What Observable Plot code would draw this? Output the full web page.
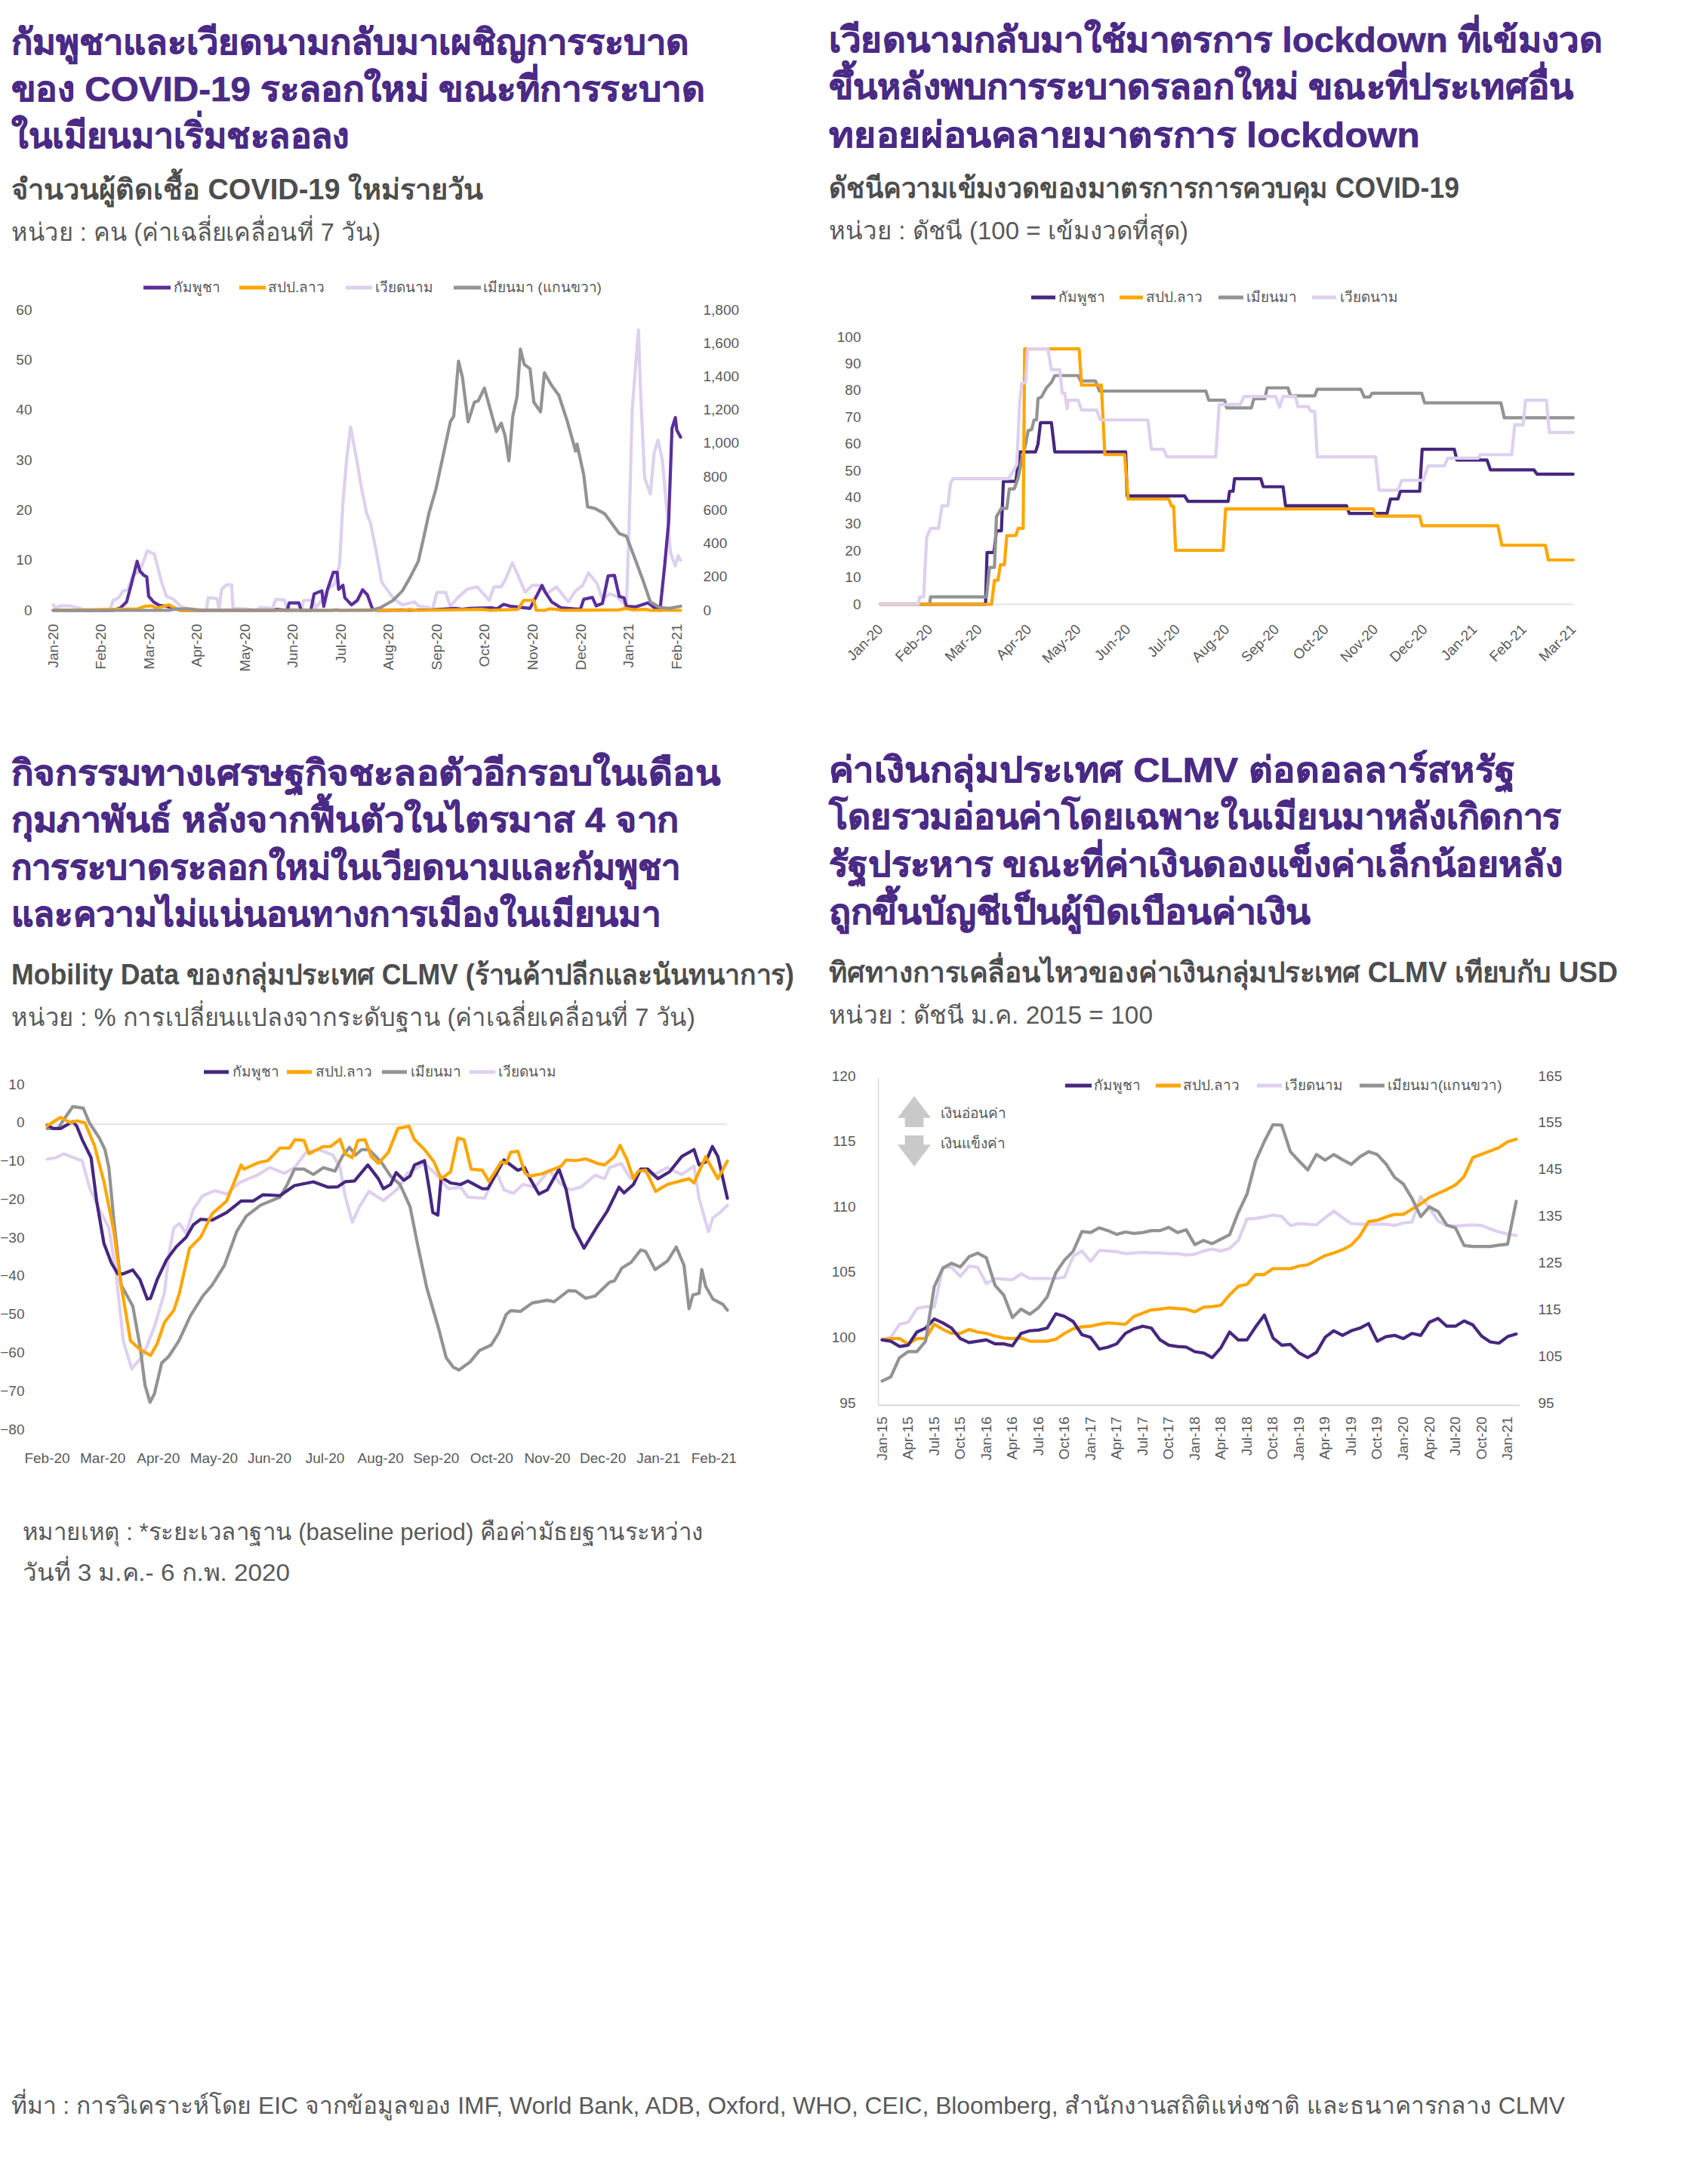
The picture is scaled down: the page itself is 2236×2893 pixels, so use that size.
<!DOCTYPE html>
<html lang="th"><head><meta charset="utf-8">
<script src="https://cdn.jsdelivr.net/npm/d3@7"></script>
<script src="https://cdn.jsdelivr.net/npm/@observablehq/plot@0.6"></script>
<style>
html,body{margin:0;background:#fff;}
#page{position:relative;width:2236px;height:2893px;background:#fff;overflow:hidden;font-family:"Liberation Sans","Noto Sans",sans-serif;}
.t{position:absolute;white-space:nowrap;line-height:1.2;transform-origin:0 50%;}
.h{font-weight:700;font-size:47px;color:#4a2a85;-webkit-text-stroke:.7px #4a2a85;}
.s{font-weight:700;font-size:38px;color:#4d4d4d;}
.u{font-size:33px;color:#595959;}
.n{font-size:32px;color:#595959;}
.lg{font-size:19px;color:#595959;}
.sw{position:absolute;height:5px;transform:translateY(-50%);}
.chart{position:absolute;}
.arrow{position:absolute;background:#c9c9c9;width:44px;height:41px;}
</style></head><body><div id="page"></div>
<script>
const PURPLE1="#5b2e9a", PURPLE="#47277f", ORANGE="#ffa600", LILAC="#dfd0ee", GREY="#939393";

// ---------- text ----------
const head1=["กัมพูชาและเวียดนามกลับมาเผชิญการระบาด","ของ COVID-19 ระลอกใหม่ ขณะที่การระบาด","ในเมียนมาเริ่มชะลอลง"];
const sub1="จำนวนผู้ติดเชื้อ COVID-19 ใหม่รายวัน";
const unit1="หน่วย : คน (ค่าเฉลี่ยเคลื่อนที่ 7 วัน)";
const head2=["เวียดนามกลับมาใช้มาตรการ lockdown ที่เข้มงวด","ขึ้นหลังพบการระบาดรลอกใหม่ ขณะที่ประเทศอื่น","ทยอยผ่อนคลายมาตรการ lockdown"];
const sub2="ดัชนีความเข้มงวดของมาตรการการควบคุม COVID-19";
const unit2="หน่วย : ดัชนี (100 = เข้มงวดที่สุด)";
const head3=["กิจกรรมทางเศรษฐกิจชะลอตัวอีกรอบในเดือน","กุมภาพันธ์ หลังจากฟื้นตัวในไตรมาส 4 จาก","การระบาดระลอกใหม่ในเวียดนามและกัมพูชา","และความไม่แน่นอนทางการเมืองในเมียนมา"];
const sub3="Mobility Data ของกลุ่มประเทศ CLMV (ร้านค้าปลีกและนันทนาการ)";
const unit3="หน่วย : % การเปลี่ยนแปลงจากระดับฐาน (ค่าเฉลี่ยเคลื่อนที่ 7 วัน)";
const head4=["ค่าเงินกลุ่มประเทศ CLMV ต่อดอลลาร์สหรัฐ","โดยรวมอ่อนค่าโดยเฉพาะในเมียนมาหลังเกิดการ","รัฐประหาร ขณะที่ค่าเงินดองแข็งค่าเล็กน้อยหลัง","ถูกขึ้นบัญชีเป็นผู้บิดเบือนค่าเงิน"];
const sub4="ทิศทางการเคลื่อนไหวของค่าเงินกลุ่มประเทศ CLMV เทียบกับ USD";
const unit4="หน่วย : ดัชนี ม.ค. 2015 = 100";
const note=["หมายเหตุ : *ระยะเวลาฐาน (baseline period) คือค่ามัธยฐานระหว่าง","วันที่ 3 ม.ค.- 6 ก.พ. 2020"];
const source="ที่มา : การวิเคราะห์โดย EIC จากข้อมูลของ IMF, World Bank, ADB, Oxford, WHO, CEIC, Bloomberg, สำนักงานสถิติแห่งชาติ และธนาคารกลาง CLMV";

// ---------- tick labels ----------
const months1=["Jan-20","Feb-20","Mar-20","Apr-20","May-20","Jun-20","Jul-20","Aug-20","Sep-20","Oct-20","Nov-20","Dec-20","Jan-21","Feb-21"];
const months2=[...months1,"Mar-21"];
const months3=months1.slice(1);
const months4=["Jan-15","Apr-15","Jul-15","Oct-15","Jan-16","Apr-16","Jul-16","Oct-16","Jan-17","Apr-17","Jul-17","Oct-17","Jan-18","Apr-18","Jul-18","Oct-18","Jan-19","Apr-19","Jul-19","Oct-19","Jan-20","Apr-20","Jul-20","Oct-20","Jan-21"];

// ---------- chart 1: new cases, [months since Jan-20, cases] ----------
const casesCambodia=[[0,0],[1.25,0],[1.4,.5],[1.53,1.7],[1.63,5.3],[1.75,9.8],[1.81,7.8],[1.89,7],[1.95,6.7],[1.99,2.8],[2.09,1.7],[2.21,1],[2.36,.8],[2.51,.5],[2.66,0],[4.6,0],[4.65,.2],[4.88,0],[4.92,1.5],[5.12,1.5],[5.17,0],[5.37,0],[5.44,3.3],[5.6,3.9],[5.64,.8],[5.72,4.2],[5.84,7.6],[5.92,7.6],[5.95,4.2],[6.04,5],[6.08,2.5],[6.22,1.1],[6.34,2],[6.45,4.1],[6.55,3.1],[6.65,.4],[6.73,0],[7.9,.1],[8.38,.4],[8.53,.2],[8.68,.4],[9.14,.5],[9.25,.3],[9.39,1.2],[9.54,.8],[9.94,.4],[10.09,3.1],[10.19,5],[10.26,3.6],[10.39,1.7],[10.59,.5],[10.99,.2],[11.06,2.2],[11.24,2.6],[11.32,.9],[11.45,1.4],[11.57,6.9],[11.7,7],[11.8,2.8],[11.9,2.5],[11.95,.8],[12.15,.7],[12.4,1.5],[12.55,.4],[12.65,0],[12.75,9.2],[12.83,17.6],[12.9,36.3],[12.97,38.5],[13,36],[13.08,34.6]];
const casesLaos=[[0,0],[1.76,.3],[1.91,.8],[2.06,.9],[2.16,.4],[2.41,1.1],[2.63,0],[5.8,0],[5.9,.15],[6,0],[6.6,.1],[7.3,0],[7.43,.2],[7.6,0],[8.94,.2],[9.1,0],[9.69,.2],[9.81,2],[10.02,2],[10.07,0],[10.25,0],[10.34,.3],[10.49,.2],[10.59,0],[11.8,.1],[11.93,.4],[12.1,.1],[12.35,.2],[12.45,0],[13.08,0]];
const casesVietnam=[[0,1.1],[.05,.5],[.15,.9],[.35,.9],[.55,.4],[.68,0],[1.18,0],[1.25,2],[1.36,2.5],[1.46,3.9],[1.56,4.2],[1.66,7],[1.76,7.5],[1.86,9.2],[1.96,11.9],[2.11,11.2],[2.26,5.6],[2.36,2.8],[2.51,2.2],[2.66,.8],[2.86,0],[3.19,0],[3.23,2.5],[3.41,2.4],[3.46,.3],[3.51,4.2],[3.61,5.1],[3.72,5.1],[3.75,.4],[4.02,.3],[4.22,0],[4.32,.6],[4.57,.4],[4.64,2.2],[4.82,2.1],[4.87,.4],[5.17,0],[5.22,2],[5.42,2],[5.47,.5],[5.57,1.7],[5.72,4.2],[5.87,5.3],[5.97,9.2],[6.04,21.5],[6.12,30.4],[6.2,36.6],[6.3,31.5],[6.43,24.3],[6.53,19.5],[6.61,17.6],[6.73,12],[6.85,5.6],[6.98,3.9],[7.11,2.2],[7.28,1.1],[7.53,1.7],[7.63,.8],[7.83,.6],[7.9,0],[8,3.6],[8.18,3.6],[8.28,.8],[8.43,2.5],[8.63,4.2],[8.84,4.7],[9.09,2],[9.19,4.7],[9.34,4.7],[9.44,6.4],[9.57,9.5],[9.69,7],[9.84,3.6],[9.99,5],[10.14,5],[10.29,3.3],[10.49,4.7],[10.74,1.7],[10.89,3.9],[11.04,5],[11.16,7.5],[11.34,5.3],[11.45,2.2],[11.6,3.3],[11.75,2.8],[11.95,.8],[12,14.8],[12.07,39.9],[12.2,56],[12.25,42.7],[12.33,26.5],[12.45,23.2],[12.53,31.5],[12.61,34],[12.7,29.9],[12.8,19.3],[12.87,11.4],[12.97,8.9],[13.03,10.9],[13.08,10]];
const casesMyanmar=[[0,0],[2.4,0],[2.56,8],[2.8,10],[3.1,0],[6.63,0],[6.83,17],[7.08,59],[7.28,117],[7.43,192],[7.61,293],[7.73,444],[7.83,578],[7.98,728],[8.08,862],[8.18,996],[8.28,1130],[8.35,1163],[8.45,1493],[8.53,1398],[8.65,1130],[8.78,1247],[8.86,1255],[8.99,1331],[9.24,1071],[9.34,1121],[9.42,1046],[9.5,896],[9.58,1163],[9.67,1281],[9.74,1565],[9.82,1473],[9.94,1448],[10.02,1247],[10.16,1189],[10.24,1423],[10.39,1348],[10.54,1289],[10.72,1130],[10.89,954],[10.92,996],[11.06,812],[11.14,620],[11.29,611],[11.5,578],[11.8,460],[11.95,444],[12.15,293],[12.3,176],[12.45,50],[12.65,17],[12.85,12],[13.08,25]];
const casesTicks=d3.range(0,61,10), casesRightTicks=d3.range(0,1801,200);

// ---------- chart 2: stringency, [months since Jan-20, index] ----------
const strictCambodia=[[0,0],[2.12,0],[2.15,19.4],[2.29,19.4],[2.34,27.5],[2.44,27.5],[2.48,46],[2.73,46],[2.81,57],[3.13,57],[3.18,60],[3.23,68],[3.45,68],[3.52,57],[4.95,57],[4.98,40.6],[6.14,40.6],[6.21,38.5],[7.02,38.5],[7.05,42.3],[7.12,42.3],[7.15,47],[7.68,47],[7.73,44],[8.13,44],[8.18,36.9],[9.41,36.9],[9.47,34],[10.23,34],[10.3,39.4],[10.45,39.4],[10.5,42.3],[10.89,42.3],[10.94,58],[11.59,58],[11.64,54],[12.25,54],[12.32,50.3],[13.2,50.3],[13.26,48.7],[13.99,48.7]];
const strictLaos=[[0,0],[2.24,0],[2.3,9],[2.37,9],[2.42,14.8],[2.5,14.8],[2.55,25.7],[2.73,25.7],[2.78,28.4],[2.88,28.4],[2.91,95.6],[4.01,95.6],[4.06,82],[4.46,82],[4.53,56],[4.93,56],[5,39.4],[5.82,39.4],[5.88,36.7],[5.92,36.7],[5.96,20.2],[6.92,20.2],[6.97,35.7],[9.95,35.7],[10,33],[10.89,33],[10.94,29.4],[12.47,29.4],[12.55,22.1],[13.43,22.1],[13.49,16.6],[13.99,16.6]];
const strictMyanmar=[[.8,0],[.99,0],[1.01,2.8],[2.14,2.8],[2.2,13.8],[2.3,13.8],[2.34,32.8],[2.44,35.9],[2.55,35.9],[2.6,43.2],[2.7,43.2],[2.78,47.4],[2.85,54.2],[2.93,60],[2.98,65],[3.05,65.4],[3.1,69],[3.15,69],[3.18,77],[3.25,77.6],[3.35,81],[3.45,83],[3.52,85.6],[3.99,85.6],[4.04,83.6],[4.34,83.6],[4.42,79.8],[6.57,79.8],[6.63,76.4],[6.95,76.4],[6.99,73.5],[7.49,73.5],[7.54,76.9],[7.76,76.9],[7.81,81],[8.23,81],[8.28,78],[8.77,78],[8.82,80.5],[9.7,80.5],[9.77,77.6],[9.88,77.6],[9.93,79],[10.93,79],[10.99,75.4],[12.53,75.4],[12.6,69.8],[13.99,69.8]];
const strictVietnam=[[0,0],[.76,0],[.79,2.8],[.87,2.8],[.93,25],[1.01,28.4],[1.17,28.4],[1.24,36.9],[1.36,36.9],[1.41,45],[1.46,47],[2.58,47],[2.68,49.9],[2.75,52.3],[2.81,75.7],[2.85,82.7],[2.93,83],[2.97,95.6],[3.38,95.6],[3.45,87.8],[3.62,87.8],[3.67,79],[3.72,79],[3.77,73.2],[3.79,76.4],[3.99,76.4],[4.06,72.7],[4.36,72.7],[4.44,69],[5.4,69],[5.47,58],[5.72,58],[5.78,55.2],[6.77,55.2],[6.84,74.7],[7.27,74.9],[7.34,77.8],[7.98,77.8],[8.06,73.7],[8.13,77.8],[8.38,77.8],[8.43,74],[8.64,74],[8.69,72.2],[8.77,72.2],[8.82,55.2],[10,55.2],[10.07,42.7],[10.45,42.7],[10.53,46.4],[10.96,46.4],[11.06,51.8],[11.39,51.8],[11.46,54.7],[12.07,54.7],[12.12,56],[12.75,56],[12.81,67.2],[12.98,67.2],[13.03,76.4],[13.45,76.4],[13.51,64.3],[13.99,64.3]];
const strictTicks=d3.range(0,101,10);

// ---------- chart 3: mobility, [months since Feb-20, % change] ----------
const mobCambodia=[[0,-.2],[.11,-1.1],[.24,-1.1],[.46,.7],[.53,-.4],[.63,-4],[.79,-8.7],[.89,-20],[1.02,-31],[1.15,-36],[1.27,-39],[1.37,-39],[1.54,-38],[1.67,-40.5],[1.8,-45.6],[1.86,-45.4],[1.98,-40.5],[2.15,-35.3],[2.32,-32],[2.5,-29.5],[2.63,-26.2],[2.76,-24.8],[2.97,-25],[3.23,-23],[3.49,-20],[3.71,-20],[3.88,-18.4],[4.19,-18.6],[4.45,-16],[4.79,-15],[5.05,-16.4],[5.23,-16.3],[5.36,-15],[5.53,-14.8],[5.77,-10.6],[5.96,-14.2],[6.05,-16.8],[6.18,-15.7],[6.28,-12.6],[6.42,-14.6],[6.53,-13.5],[6.61,-10.6],[6.79,-9.5],[6.87,-16.4],[6.94,-23],[7.03,-23.7],[7.09,-13.8],[7.26,-15.3],[7.44,-15.7],[7.57,-14.8],[7.83,-16.8],[7.93,-16.8],[8.22,-9.3],[8.47,-12],[8.59,-11.3],[8.69,-14.2],[8.85,-18.2],[9,-17.1],[9.21,-11.7],[9.34,-17.1],[9.47,-27],[9.66,-32.3],[9.9,-26.6],[10.08,-22.6],[10.29,-16.4],[10.38,-17.9],[10.55,-15.7],[10.68,-11.7],[10.81,-11.7],[10.99,-14.2],[11.2,-12.4],[11.42,-8.4],[11.64,-6.6],[11.73,-10.6],[11.85,-9.8],[11.97,-5.8],[12.07,-8.4],[12.24,-19.3]];
const mobLaos=[[0,-.4],[.24,1.8],[.42,.4],[.53,.9],[.68,.4],[.85,-5.5],[1.02,-14.9],[1.2,-28],[1.33,-41.9],[1.5,-56.5],[1.67,-58.7],[1.86,-60.3],[1.98,-57.2],[2.11,-51.7],[2.28,-48.5],[2.38,-44],[2.56,-32.4],[2.76,-29.5],[2.97,-23.3],[3.23,-20],[3.49,-10.6],[3.54,-11.7],[3.8,-10],[3.97,-9.5],[4.19,-6.2],[4.36,-6.2],[4.46,-4],[4.62,-4.2],[4.71,-7.7],[4.97,-5.8],[5.1,-5.8],[5.27,-3.9],[5.36,-7.7],[5.49,-8.7],[5.59,-4.2],[5.72,-4],[5.83,-8.4],[5.96,-10.2],[6.14,-7.3],[6.31,-1.1],[6.51,-.5],[6.61,-4],[6.79,-6.6],[6.96,-9.8],[7.09,-14.2],[7.26,-12.4],[7.39,-3.6],[7.5,-4],[7.63,-11.7],[7.83,-12],[7.95,-14.9],[8.17,-9.8],[8.26,-10.2],[8.34,-7.3],[8.47,-7],[8.6,-12.8],[8.69,-13.5],[8.91,-12.9],[9.25,-10.9],[9.34,-9.3],[9.51,-9.5],[9.69,-9],[9.9,-10.2],[10.03,-10.6],[10.21,-8.4],[10.31,-5.5],[10.43,-9.1],[10.55,-14.2],[10.64,-12.2],[10.77,-12],[10.95,-17.5],[11.16,-15.7],[11.55,-14.2],[11.64,-15.3],[11.85,-8.5],[12.07,-14.2],[12.24,-9.6]];
const mobMyanmar=[[0,-1.1],[.2,-1.1],[.29,1.1],[.46,4.6],[.65,4.2],[.76,.4],[.94,-3.6],[1.04,-6.6],[1.11,-11.3],[1.2,-25.1],[1.33,-41.9],[1.54,-47.4],[1.67,-57.9],[1.76,-68],[1.85,-72.5],[1.93,-70.3],[2.06,-62.3],[2.19,-60.5],[2.37,-56.5],[2.58,-49.9],[2.8,-44.8],[2.97,-41.9],[3.19,-36.8],[3.41,-28],[3.58,-24],[3.84,-21.1],[4.19,-19],[4.32,-15.7],[4.45,-11.7],[4.62,-11.7],[4.79,-13.1],[4.97,-11.3],[5.18,-12.2],[5.31,-8.4],[5.44,-6],[5.55,-8],[5.66,-6.6],[5.79,-6.6],[6.01,-9.8],[6.18,-13.5],[6.35,-15.7],[6.53,-21.5],[6.66,-31],[6.83,-42.6],[7.05,-53.6],[7.18,-60.9],[7.31,-63.4],[7.41,-64.1],[7.61,-62],[7.78,-59],[7.99,-57.6],[8.13,-54.3],[8.26,-49.6],[8.34,-48.6],[8.52,-48.8],[8.73,-46.6],[9,-45.9],[9.12,-46.3],[9.38,-43.4],[9.51,-43.5],[9.69,-45.4],[9.86,-44.8],[10.12,-41.2],[10.21,-40.8],[10.34,-37.5],[10.51,-36],[10.68,-32.8],[10.77,-33.2],[10.94,-37.9],[11.16,-35.7],[11.32,-32],[11.46,-36.8],[11.55,-48.1],[11.62,-44.5],[11.73,-44.1],[11.78,-37.9],[11.85,-42.3],[11.98,-45.6],[12.16,-47],[12.24,-48.5]];
const mobVietnam=[[0,-9.1],[.16,-8.7],[.3,-7.7],[.42,-8.4],[.63,-9.5],[.76,-16.4],[.94,-22.2],[1.11,-27],[1.24,-39],[1.37,-56.5],[1.52,-63.8],[1.72,-60.5],[1.93,-52.8],[2.11,-44],[2.19,-33.9],[2.28,-27],[2.38,-25.9],[2.5,-28.4],[2.63,-22.2],[2.8,-18.6],[3.02,-17.3],[3.23,-18.2],[3.45,-15.3],[3.62,-14.2],[3.75,-13.5],[4.01,-11.3],[4.27,-12.8],[4.45,-11.3],[4.66,-7.3],[4.88,-6.6],[5.14,-8],[5.27,-11.3],[5.36,-18.6],[5.49,-25.5],[5.62,-21.5],[5.79,-17.5],[6.05,-19.9],[6.31,-16.8],[6.48,-12.8],[6.79,-10.2],[7,-13.1],[7.22,-16.8],[7.44,-16.4],[7.57,-19],[7.87,-19.3],[8.08,-12.4],[8.22,-17.1],[8.39,-18],[8.56,-15.7],[8.78,-16.4],[9.03,-12],[9.25,-15.7],[9.42,-17.1],[9.6,-16.4],[9.86,-13.3],[10.03,-14.2],[10.12,-11.3],[10.33,-10.2],[10.5,-14.2],[10.68,-12],[10.9,-13.3],[11.16,-11.3],[11.42,-13.1],[11.64,-10.9],[11.73,-19.3],[11.9,-28],[11.98,-24.4],[12.11,-23],[12.24,-21.1]];
const mobTicks=d3.range(-80,11,10);

// ---------- chart 4: currency, monthly from Jan-15 ----------
const fxCambodia=[100,99.9,99.5,99.6,100.6,100.9,101.6,101.3,100.9,100.1,99.8,99.9,100,99.7,99.7,99.55,100.5,100.7,100.75,100.9,102,101.8,101.4,100.4,100.2,99.3,99.45,99.7,100.5,100.85,101.05,100.9,100,99.6,99.5,99.45,99.1,99,98.65,99.4,100.6,100,100,101,101.9,100.15,99.6,99.65,99,98.65,99.05,100.2,100.7,100.35,100.7,100.9,101.25,99.9,100.25,100.35,100.1,100.5,100.35,101.35,101.65,101.05,101.05,101.45,101.15,100.3,99.85,99.75,100.25,100.45];
const fxLaos=[100,100.1,100.1,99.7,100.1,100.1,101.2,100.8,100.5,100.5,100.8,100.6,100.5,100.3,100.15,100.1,100.15,99.9,99.9,99.9,100.05,100.5,100.85,101,101.05,101.2,101.3,101.25,101.2,101.8,102.05,102.3,102.35,102.45,102.4,102.35,102.15,102.5,102.55,102.65,103.45,104.1,104.25,105,105,105.45,105.45,105.45,105.65,105.75,106.1,106.45,106.65,106.9,107.25,107.95,109.05,109.15,109.4,109.6,109.6,110,110.4,110.9,111.2,111.5,111.85,112.5,113.95,114.2,114.45,114.7,115.15,115.35];
const fxVietnam=[100.05,100.2,101.2,101.35,102.4,102.55,102.5,105.55,105.55,104.85,105.65,105.55,104.3,104.7,104.65,104.6,105.05,104.7,104.7,104.7,104.7,104.8,106.4,106.8,106,106.85,106.8,106.75,106.6,106.65,106.7,106.65,106.65,106.6,106.6,106.5,106.55,106.8,106.95,106.8,107,107.6,109.25,109.3,109.4,109.55,109.45,108.75,108.9,108.85,108.8,109.35,109.85,109.35,108.9,108.85,108.85,108.85,108.85,108.75,108.95,109,110.95,110.1,109.1,108.75,108.7,108.75,108.8,108.75,108.5,108.25,108.1,108];
const fxMyanmar=[100.2,101.1,105.2,106.5,106.5,108.7,120.4,124.4,125.4,124.6,126.8,127.6,126.6,120.7,118.6,113.8,115.6,114.5,115.9,118.2,123.4,126.1,128,132.2,132,133,132.4,131.6,132.1,131.8,132,132.4,132.4,133.1,132,132.6,129.4,130.3,129.6,130.6,131.5,136.3,140.2,147.3,151.5,155.1,155,149.3,147.3,145.4,148.7,147.5,148.7,147.6,146.6,148.2,149.3,148.7,146.7,143.8,142.4,139.3,135.4,137.5,136.5,133.6,133,129.2,129,129,129,129.3,129.5,138.7];
const fxTicks=d3.range(95,121,5), fxRightTicks=d3.range(95,166,10);

// ---------- names ----------
const nCambodia="กัมพูชา", nLaos="สปป.ลาว", nVietnam="เวียดนาม", nMyanmar="เมียนมา";
const upLabel="เงินอ่อนค่า", downLabel="เงินแข็งค่า";

// ---------- helpers ----------
const page=document.getElementById("page");
function text(str,cls,left,cy,right){
  const d=document.createElement("div");d.className="t "+cls;d.textContent=str;d.style.left=left+"px";d.style.top=cy+"px";page.append(d);
  const k=right?(right-left)/d.getBoundingClientRect().width:1;
  d.style.transform=`translateY(-50%) scaleX(${k})`;
}
function lines(arr,cls,left,cys,rights){arr.forEach((s,i)=>text(s,cls,left,cys[i],rights&&rights[i]));}
function legend(items,cy){for(const [label,color,x0,x1,tx] of items){
  const s=document.createElement("div");s.className="sw";s.style.cssText=`left:${x0}px;width:${x1-x0}px;top:${cy}px;background:${color}`;page.append(s);
  text(label,"lg",tx,cy);}}
const style={fontFamily:'"Liberation Sans","Noto Sans",sans-serif',fontSize:"19px",color:"#595959",background:"transparent"};
const ln=(data,color,sw=4.2,f=d=>d)=>Plot.line(data,{x:d=>d[0],y:d=>f(d[1]),stroke:color,strokeWidth:sw,strokeLinejoin:"round"});
function mount(svg,left,top){svg.classList.add("chart");svg.style.left=left+"px";svg.style.top=top+"px";svg.style.position="absolute";page.append(svg);}

// ---------- headings ----------
lines(head1,"h",15,[56,118,180],[913,934,463]); text(sub1,"s",15,252,640); text(unit1,"u",15,308,504);
lines(head2,"h",1098,[53,115,179],[2123,2084,1881]); text(sub2,"s",1098,250,1933); text(unit2,"u",1098,306,1574);
lines(head3,"h",15,[1024,1086,1149,1211],[954,899,901,875]); text(sub3,"s",15,1292,1052); text(unit3,"u",15,1348,921);
lines(head4,"h",1098,[1020,1082,1145,1208],[2007,2068,2070,1736]); text(sub4,"s",1098,1289,2143); text(unit4,"u",1098,1345,1527);
lines(note,"n",30,[2029,2083],[932,384]); text(source,"n",15,2789,2073);

// ---------- chart 1 ----------
const k1=60/1800;
mount(Plot.plot({width:1000,height:580,marginLeft:46,marginRight:75,marginTop:0,marginBottom:108,style,
  x:{type:"linear",domain:[0,13],range:[70,896]},
  y:{type:"linear",domain:[0,60],range:[468,70]},
  marks:[
    Plot.axisY({ticks:casesTicks,tickSize:0,tickPadding:4,label:null}),
    Plot.axisY({anchor:"right",ticks:casesRightTicks.map(v=>v*k1),tickFormat:v=>d3.format(",")(Math.round(v/k1)),tickSize:0,tickPadding:6,label:null}),
    Plot.axisX({ticks:d3.range(0,14),tickFormat:i=>months1[i],tickRotate:-90,tickSize:0,tickPadding:14,label:null}),
    ln(casesVietnam,LILAC),ln(casesCambodia,PURPLE1),ln(casesLaos,ORANGE),ln(casesMyanmar,GREY,4.2,v=>v*k1)
  ]}),0,340);
legend([[nCambodia,PURPLE1,190,226,230],[nLaos,ORANGE,317,352,355],[nVietnam,LILAC,458,493,497],[nMyanmar+" (แกนขวา)",GREY,601,637,640]],381);

// ---------- chart 2 ----------
mount(Plot.plot({width:1100,height:560,marginLeft:64,marginRight:60,marginTop:0,marginBottom:116,style,
  x:{type:"linear",domain:[0,14],range:[86,1004]},
  y:{type:"linear",domain:[0,100],range:[440,86]},
  marks:[
    Plot.ruleY([0],{x1:()=>0,x2:()=>14,stroke:"#e3e3e3",strokeWidth:2}),
    Plot.axisY({ticks:strictTicks,tickSize:0,tickPadding:4,label:null}),
    Plot.axisX({ticks:d3.range(0,15),tickFormat:i=>months2[i],tickRotate:-45,tickSize:0,tickPadding:26,label:null}),
    ln(strictCambodia,PURPLE),ln(strictMyanmar,GREY),ln(strictLaos,ORANGE),ln(strictVietnam,LILAC)
  ]}),1080,360);
legend([[nCambodia,PURPLE,1366,1398,1402],[nLaos,ORANGE,1483,1514,1518],[nMyanmar,GREY,1614,1647,1651],[nVietnam,LILAC,1738,1770,1775]],394);

// ---------- chart 3 ----------
mount(Plot.plot({width:1000,height:560,marginLeft:36,marginRight:20,marginTop:0,marginBottom:60,style,
  x:{type:"linear",domain:[0,12.24],range:[62,963]},
  y:{type:"linear",domain:[-80,10],range:[495,38]},
  marks:[
    Plot.ruleY([0],{x1:()=>0,x2:()=>12.24,stroke:"#e3e3e3",strokeWidth:2}),
    Plot.axisY({ticks:mobTicks,tickSize:0,tickPadding:4,dy:-2,label:null}),
    Plot.axisX({ticks:d3.range(0,13),tickFormat:i=>months3[i],tickSize:0,tickPadding:24,label:null}),
    ln(mobVietnam,LILAC),ln(mobMyanmar,GREY),ln(mobCambodia,PURPLE),ln(mobLaos,ORANGE)
  ]}),0,1400);
legend([[nCambodia,PURPLE,270,303,308],[nLaos,ORANGE,380,413,418],[nMyanmar,GREY,506,539,544],[nVietnam,LILAC,622,656,660]],1420);

// ---------- chart 4 ----------
const k4=v=>95+(v-95)*25/70;
const fx=a=>a.map((v,i)=>[i,v]);
mount(Plot.plot({width:1100,height:570,marginLeft:57,marginRight:149,marginTop:0,marginBottom:109,style,
  x:{type:"linear",domain:[0,73],range:[88,928]},
  y:{type:"linear",domain:[95,120],range:[461,28]},
  marks:[
    Plot.ruleY([95],{x1:()=>-0.43,x2:()=>73.43,stroke:"#d9d9d9",strokeWidth:2}),
    Plot.ruleX([-0.43],{y1:()=>95,y2:()=>120,stroke:"#d9d9d9",strokeWidth:1.5}),
    Plot.axisY({ticks:fxTicks,tickSize:0,tickPadding:4,dy:-3,label:null}),
    Plot.axisY({anchor:"right",ticks:fxRightTicks.map(k4),tickFormat:v=>String(Math.round(95+(v-95)*70/25)),tickSize:0,tickPadding:6,dy:-3,label:null}),
    Plot.axisX({ticks:d3.range(0,73,3),tickFormat:i=>months4[i/3],tickRotate:-90,tickSize:0,tickPadding:15,label:null}),
    ln(fx(fxVietnam),LILAC),ln(fx(fxLaos),ORANGE),ln(fx(fxCambodia),PURPLE),ln(fx(fxMyanmar),GREY,4.2,k4)
  ]}),1080,1400);
legend([[nCambodia,PURPLE,1411,1446,1449],[nLaos,ORANGE,1531,1564,1567],[nVietnam,LILAC,1665,1698,1702],[nMyanmar+"(แกนขวา)",GREY,1801,1834,1838]],1438);

// direction arrows
[[1452,"polygon(50% 0,100% 70%,78% 70%,78% 100%,22% 100%,22% 70%,0 70%)"],[1504,"polygon(22% 0,78% 0,78% 30%,100% 30%,50% 100%,0 30%,22% 30%)"]].forEach(([top,clip])=>{
  const a=document.createElement("div");a.className="arrow";a.style.left="1189px";a.style.top=top+"px";a.style.clipPath=clip;page.append(a);});
text(upLabel,"lg",1246,1475); text(downLabel,"lg",1246,1515);
</script></body></html>
